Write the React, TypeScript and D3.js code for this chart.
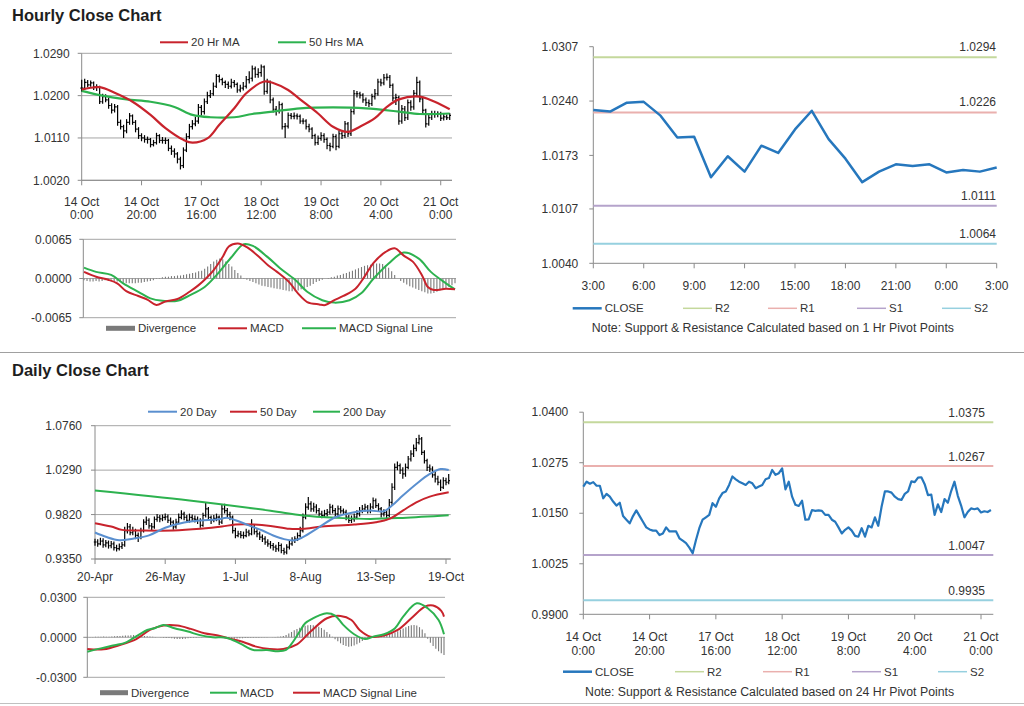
import React from 'react';
import * as d3 from 'd3';

// ---------- DATA (prices in 1e-4 units, i.e. 10216 = 1.0216) ----------
const hourlyDayLabels = ['14 Oct', '14 Oct', '17 Oct', '18 Oct', '19 Oct', '20 Oct', '21 Oct'];
const hourlyTimeLabels = ['0:00', '20:00', '16:00', '12:00', '8:00', '4:00', '0:00'];
const hourlyTickIdx = [0, 20, 40, 60, 80, 100, 120];
const hourlyPriceTicks = [10020, 10110, 10200, 10290];

const hourlyClose = [
  10216, 10228, 10223, 10227, 10218, 10218, 10187, 10198, 10191, 10179,
  10169, 10176, 10143, 10134, 10125, 10143, 10157, 10143, 10129, 10115,
  10110, 10107, 10107, 10096, 10100, 10115, 10105, 10105, 10105, 10088,
  10082, 10076, 10065, 10051, 10084, 10113, 10134, 10140, 10146, 10175,
  10166, 10187, 10200, 10204, 10220, 10241, 10234, 10228, 10224, 10220,
  10228, 10224, 10212, 10216, 10220, 10234, 10237, 10257, 10245, 10249,
  10261, 10209, 10228, 10191, 10171, 10168, 10181, 10134, 10135, 10158,
  10156, 10157, 10156, 10146, 10146, 10134, 10129, 10115, 10100, 10109,
  10115, 10107, 10094, 10092, 10113, 10092, 10119, 10115, 10140, 10119,
  10166, 10204, 10204, 10201, 10191, 10185, 10183, 10198, 10204, 10229,
  10227, 10238, 10239, 10222, 10195, 10196, 10146, 10172, 10153, 10185,
  10176, 10205, 10228, 10193, 10169, 10140, 10153, 10162, 10160, 10162,
  10152, 10155, 10153, 10158,
];
const hourlyHigh = [
  10234, 10236, 10233, 10232, 10230, 10224, 10221, 10204, 10203, 10196,
  10184, 10182, 10180, 10149, 10138, 10150, 10163, 10160, 10148, 10133,
  10120, 10116, 10113, 10110, 10106, 10121, 10118, 10112, 10111, 10108,
  10094, 10088, 10080, 10070, 10090, 10120, 10140, 10148, 10155, 10182,
  10180, 10194, 10208, 10212, 10228, 10246, 10245, 10238, 10232, 10230,
  10236, 10233, 10228, 10223, 10229, 10242, 10252, 10264, 10262, 10258,
  10266, 10264, 10236, 10232, 10196, 10178, 10188, 10185, 10142, 10164,
  10163, 10164, 10162, 10160, 10152, 10150, 10140, 10133, 10119, 10115,
  10122, 10120, 10111, 10100, 10119, 10118, 10126, 10124, 10146, 10144,
  10172, 10212, 10210, 10208, 10205, 10196, 10192, 10204, 10214, 10236,
  10236, 10246, 10247, 10244, 10226, 10204, 10200, 10180, 10178, 10192,
  10190, 10212, 10240, 10232, 10198, 10172, 10160, 10168, 10168, 10167,
  10166, 10161, 10160, 10163,
];
const hourlyLow = [
  10208, 10212, 10218, 10219, 10212, 10210, 10182, 10183, 10186, 10172,
  10162, 10164, 10136, 10128, 10110, 10120, 10138, 10138, 10122, 10108,
  10103, 10100, 10098, 10090, 10092, 10096, 10099, 10098, 10097, 10082,
  10074, 10068, 10056, 10043, 10046, 10080, 10108, 10128, 10135, 10140,
  10158, 10160, 10182, 10195, 10200, 10216, 10228, 10222, 10216, 10214,
  10215, 10218, 10206, 10207, 10211, 10215, 10226, 10230, 10238, 10238,
  10240, 10202, 10204, 10184, 10164, 10158, 10162, 10128, 10110, 10130,
  10150, 10150, 10149, 10140, 10139, 10128, 10122, 10108, 10094, 10095,
  10104, 10100, 10086, 10082, 10088, 10084, 10088, 10108, 10110, 10112,
  10114, 10160, 10196, 10194, 10185, 10178, 10176, 10178, 10192, 10200,
  10220, 10222, 10232, 10216, 10188, 10180, 10138, 10140, 10146, 10148,
  10168, 10170, 10198, 10186, 10160, 10132, 10136, 10148, 10153, 10154,
  10146, 10147, 10148, 10148,
];
const hourlyMA20: [number, number][] = [
  [0, 10213], [6, 10218], [11, 10206], [17, 10187], [23, 10159], [28, 10131], [34, 10106],
  [37, 10100], [42, 10109], [46, 10138], [51, 10173], [55, 10205], [61, 10230], [64, 10227],
  [69, 10212], [73, 10192], [79, 10162], [84, 10134], [89, 10123], [93, 10134], [98, 10152],
  [102, 10176], [106, 10192], [113, 10198], [118, 10187], [123, 10171],
];
const hourlyMA50: [number, number][] = [
  [0, 10210], [6, 10201], [15, 10192], [23, 10187], [31, 10176], [37, 10159], [43, 10154],
  [51, 10154], [57, 10161], [65, 10167], [73, 10173], [84, 10175], [95, 10173], [106, 10166],
  [113, 10161], [123, 10162],
];

// hourly MACD (1e-4 units)
const hourlyMacdTicks = [-65, 0, 65];
const hourlyMacd: [number, number][] = [
  [0, 11], [4, 3], [8, -2], [11, -8], [14, -21], [18, -29], [21, -35], [24, -44], [27, -38],
  [31, -34], [35, -22], [38, -11], [41, 3], [43, 14], [46, 36], [48, 53], [51, 58], [54, 52],
  [58, 36], [61, 22], [64, 11], [68, -6], [71, -25], [74, -39], [78, -43], [80, -44], [83, -36],
  [86, -29], [90, -17], [93, 3], [96, 26], [100, 44], [103, 50], [106, 38], [109, 28], [112, 6],
  [114, -14], [116, -19], [120, -17], [123, -18],
];
const hourlySignal: [number, number][] = [
  [0, 18], [4, 11], [9, 6], [13, -8], [18, -22], [22, -33], [26, -37], [31, -37], [35, -28],
  [40, -14], [44, 6], [49, 36], [53, 57], [56, 54], [61, 35], [65, 17], [70, -2], [74, -22],
  [79, -36], [83, -40], [88, -36], [92, -24], [96, 0], [101, 25], [106, 43], [111, 33],
  [115, 11], [120, -8], [123, -18],
];
const hourlyDivergence = [
  -3, -4, -5, -5, -4, -5, -4, -3, -3, -2,
  -4, -5, -6, -7, -8, -8, -8, -8, -7, -7, -6, -5, -4, -3, -1,
  1, 2, 3, 3, 4, 4, 5, 5, 6, 7, 8, 9, 10, 12, 13,
  16, 20, 24, 28, 31, 33, 32, 28,
  24, 20, 14, 9, 5, 1, -2, -4,
  -6, -8, -10, -12, -13, -14, -15, -16, -17, -18, -19, -20, -21, -21, -21, -20, -18, -16, -14, -12, -9, -6, -4,
  -2, 0, 1, 2, 3, 5, 6, 8, 9, 11, 13,
  15, 17, 19, 21, 22, 23, 24, 25, 25, 24, 22, 18, 12,
  6, 0, -4, -7, -10, -13, -15, -17, -19, -21, -23, -25, -25, -24, -22, -20, -18, -16, -14, -11, -8,
];

// hourly pivot chart (last 25 hours, 3:00 -> 3:00)
const pivotHourStart = 99;
const pivotHourLabels = ['3:00', '6:00', '9:00', '12:00', '15:00', '18:00', '21:00', '0:00', '3:00'];
const pivotHourTicks = [10040, 10107, 10173, 10240, 10307];
const hourlyR2 = 10294;
const hourlyR1 = 10226;
const hourlyS1 = 10111;
const hourlyS2 = 10064;

// daily
const dailyLabels = ['20-Apr', '26-May', '1-Jul', '8-Aug', '13-Sep', '19-Oct'];
const dailyTickIdx = [0, 26, 52, 78, 104, 130];
const dailyPriceTicks = [9350, 9820, 10290, 10760];
const dailyClose = [
  9530, 9510, 9540, 9500, 9520, 9490, 9510, 9470, 9460, 9480,
  9500, 9650, 9690, 9630, 9650, 9600, 9580, 9650, 9740, 9760,
  9700, 9690, 9770, 9790, 9775, 9790, 9795, 9760, 9740, 9690,
  9740, 9790, 9825, 9790, 9760, 9790, 9775, 9770, 9757, 9705,
  9810, 9880, 9790, 9757, 9780, 9792, 9740, 9880, 9862, 9820,
  9792, 9651, 9598, 9616, 9600, 9598, 9634, 9616, 9686, 9640,
  9616, 9581, 9563, 9528, 9510, 9493, 9475, 9458, 9493, 9440,
  9422, 9475, 9510, 9546, 9560, 9598, 9651, 9792, 9898, 9933,
  9880, 9900, 9862, 9827, 9810, 9830, 9845, 9898, 9862, 9827,
  9880, 9860, 9845, 9792, 9757, 9774, 9792, 9830, 9862, 9880,
  9898, 9862, 9900, 9968, 9915, 9880, 9827, 9840, 9810, 9950,
  10109, 10320, 10338, 10290, 10250, 10320, 10408, 10461, 10520, 10580,
  10620, 10478, 10390, 10320, 10302, 10240, 10197, 10162, 10109, 10179,
  10162, 10179,
];
const dailyHigh = [
  9565, 9560, 9575, 9570, 9550, 9545, 9540, 9535, 9500, 9515,
  9530, 9690, 9730, 9720, 9690, 9670, 9630, 9680, 9770, 9800,
  9780, 9730, 9800, 9825, 9815, 9820, 9830, 9820, 9790, 9760,
  9775, 9830, 9865, 9850, 9815, 9830, 9820, 9810, 9800, 9780,
  9840, 9950, 9900, 9810, 9815, 9830, 9810, 9930, 9935, 9890,
  9850, 9810, 9680, 9650, 9645, 9640, 9670, 9660, 9770, 9720,
  9665, 9640, 9610, 9590, 9560, 9540, 9520, 9500, 9530, 9515,
  9470, 9505, 9545, 9580, 9590, 9630, 9690, 9830, 9940, 10005,
  9960, 9945, 9930, 9890, 9860, 9870, 9880, 9935, 9925, 9890,
  9915, 9910, 9885, 9870, 9815, 9810, 9830, 9865, 9900, 9920,
  9935, 9920, 9940, 10000, 9990, 9940, 9900, 9875, 9870, 9985,
  10150, 10360, 10380, 10360, 10320, 10360, 10440, 10500, 10560, 10630,
  10665, 10640, 10500, 10410, 10350, 10330, 10270, 10230, 10190, 10215,
  10210, 10250,
];
const dailyLow = [
  9490, 9480, 9495, 9470, 9475, 9460, 9465, 9440, 9430, 9440,
  9455, 9480, 9620, 9600, 9600, 9560, 9530, 9560, 9630, 9710,
  9670, 9650, 9670, 9745, 9740, 9750, 9760, 9730, 9700, 9660,
  9670, 9720, 9770, 9760, 9730, 9735, 9745, 9735, 9720, 9680,
  9690, 9790, 9760, 9720, 9740, 9750, 9710, 9720, 9830, 9790,
  9760, 9620, 9570, 9580, 9570, 9565, 9580, 9590, 9600, 9610,
  9580, 9550, 9530, 9500, 9480, 9460, 9440, 9425, 9430, 9410,
  9395, 9400, 9450, 9490, 9520, 9540, 9580, 9630, 9770, 9870,
  9850, 9850, 9830, 9800, 9780, 9785, 9800, 9820, 9830, 9795,
  9800, 9830, 9815, 9760, 9730, 9730, 9745, 9770, 9800, 9835,
  9850, 9830, 9835, 9880, 9890, 9850, 9790, 9800, 9760, 9795,
  9920, 10080, 10290, 10250, 10200, 10220, 10300, 10380, 10430, 10490,
  10560, 10450, 10360, 10280, 10270, 10210, 10160, 10130, 10070, 10090,
  10130, 10140,
];
const dailyMA20: [number, number][] = [
  [0, 9630], [4, 9585], [9, 9548], [14, 9565], [20, 9600], [26, 9680], [33, 9735], [39, 9757],
  [45, 9767], [49, 9785], [52, 9760], [57, 9706], [62, 9651], [66, 9598], [70, 9560], [74, 9548],
  [77, 9581], [83, 9686], [89, 9792], [96, 9845], [102, 9862], [107, 9855], [110, 9915],
  [114, 10021], [119, 10144], [124, 10250], [128, 10302], [131, 10292],
];
const dailyMA50: [number, number][] = [
  [0, 9729], [6, 9693], [10, 9658], [18, 9651], [29, 9651], [39, 9669], [47, 9693], [52, 9715],
  [59, 9715], [65, 9700], [72, 9669], [77, 9669], [84, 9693], [96, 9715], [104, 9739],
  [109, 9774], [114, 9862], [119, 9950], [124, 10010], [131, 10056],
];
const dailyMA200: [number, number][] = [
  [0, 10074], [35, 9968], [65, 9860], [77, 9810], [90, 9785], [102, 9774], [114, 9785], [131, 9812],
];

// daily MACD (1e-4 units)
const dailyMacdTicks = [-300, 0, 300];
const dailyMacd: [number, number][] = [
  [0, -108], [5, -83], [10, -60], [14, -40], [17, -5], [19, 20], [22, 55], [25, 70], [28, 92],
  [32, 68], [37, 43], [41, 18], [46, 0], [51, -3], [56, -45], [61, -95], [66, -95], [70, -105],
  [73, -95], [75, -50], [78, 43], [80, 105], [83, 143], [85, 163], [88, 180], [91, 163], [94, 93],
  [98, 23], [102, -13], [105, 5], [109, 23], [113, 68], [116, 155], [121, 255], [125, 218],
  [129, 130], [131, 23],
];
const dailySignal: [number, number][] = [
  [0, -88], [6, -90], [12, -58], [18, -13], [23, 55], [28, 88], [33, 88], [38, 63], [43, 30],
  [48, 13], [52, -8], [57, -33], [62, -70], [67, -88], [72, -88], [77, -53], [82, 43], [88, 143],
  [93, 160], [97, 130], [100, 55], [104, 5], [109, 13], [114, 55], [119, 143], [124, 230],
  [127, 238], [130, 198], [131, 155],
];
const dailyDivergence = [
  2, 3, 2, 4, 5, 4, 6, 5, 4, 6,
  8, 10, 9, 12, 14, 13, 15, 17, 16, 14,
  12, 10, 8, 6, 4, 2, 0, -2, -4, -5,
  -6, -8, -10, -12, -13, -12, -10, -8, -6, -4,
  -3, -2, -1, 0, 1, 1, 0, -2, -4, -5,
  -6, -7, -8, -9, -10, -9, -8, -7, -6, -5,
  -4, -4, -3, -3, -2, -2, -1, 0, 1, 2,
  4, 6, 10, 18, 28, 40, 52, 62, 72, 80,
  86, 90, 92, 90, 86, 80, 70, 56, 40, 22,
  4, -14, -30, -45, -58, -66, -70, -68, -62, -52,
  -40, -28, -16, -6, 2, 6, 8, 10, 12, 14,
  18, 22, 28, 36, 46, 56, 66, 76, 84, 90,
  92, 88, 76, 58, 30, -10, -40, -65, -85, -105,
  -120, -133,
];

// 24 hr pivot chart
const pivotDayTicks = [9900, 10025, 10150, 10275, 10400];
const dailyR2 = 10375;
const dailyR1 = 10267;
const dailyS1 = 10047;
const dailyS2 = 9935;

// ---------- STYLE ----------
const FONT = '"Liberation Sans", Arial, Helvetica, sans-serif';
const TXT = '#333333';
const GRID = '#a6a6a6';
const AXIS = '#8a8a8a';
const RED = '#c8232c';
const GREEN = '#2db24f';
const BLUE_MA = '#5a8fcf';
const CLOSE_C = '#2677bd';
const R2C = '#c4d89c';
const R1C = '#eab0ae';
const S1C = '#b5a3cb';
const S2C = '#96d0df';
const HIST = '#7a7a7a';

const fmt4 = (v: number) => (v / 10000).toFixed(4);
type Pt = [number, number];

function curve(x: any, y: any, pts: Pt[]) {
  return (
    d3
      .line<Pt>()
      .x((d) => x(d[0]))
      .y((d) => y(d[1]))
      .curve(d3.curveCatmullRom.alpha(0.5))(pts) || ''
  );
}

function OHLC({ x, y, hi, lo, cl, tick }: any) {
  return (
    <g stroke="#000" strokeWidth={1.2}>
      {cl.map((c: number, i: number) => {
        const o = i > 0 ? cl[i - 1] : c;
        const xi = x(i);
        return (
          <g key={i}>
            <line x1={xi} x2={xi} y1={y(hi[i])} y2={y(lo[i])} />
            <line x1={xi - tick} x2={xi} y1={y(o)} y2={y(o)} />
            <line x1={xi} x2={xi + tick} y1={y(c)} y2={y(c)} />
          </g>
        );
      })}
    </g>
  );
}

function YAxis({ x0, x1, y, ticks, gap, grid }: any) {
  return (
    <g>
      {grid &&
        ticks.map((t: number) => (
          <line key={'g' + t} x1={x0} x2={x1} y1={y(t)} y2={y(t)} stroke={GRID} strokeWidth={1} />
        ))}
      <line x1={x0} x2={x0} y1={y(ticks[0])} y2={y(ticks[ticks.length - 1])} stroke={AXIS} />
      {ticks.map((t: number) => (
        <line key={'t' + t} x1={x0 - 4} x2={x0} y1={y(t)} y2={y(t)} stroke={AXIS} />
      ))}
      {ticks.map((t: number) => (
        <text key={'l' + t} x={x0 - gap} y={y(t)} dy="0.35em" textAnchor="end" fontSize={12} fill={TXT}>
          {fmt4(t)}
        </text>
      ))}
    </g>
  );
}

function XTicks({ x, idx, yAxis, x0, x1 }: any) {
  return (
    <g>
      <line x1={x0} x2={x1} y1={yAxis} y2={yAxis} stroke={AXIS} />
      {idx.map((i: number) => (
        <line key={i} x1={x(i)} x2={x(i)} y1={yAxis} y2={yAxis + 5} stroke={AXIS} />
      ))}
    </g>
  );
}

function Leg({ x1, x2, y, color, label, w = 2 }: any) {
  return (
    <g>
      <line x1={x1} x2={x2} y1={y} y2={y} stroke={color} strokeWidth={w} />
      <text x={x2 + 3} y={y} dy="0.35em" fontSize={11.5} fill={TXT}>
        {label}
      </text>
    </g>
  );
}

function HistLeg({ x1, x2, y, label }: any) {
  return (
    <g>
      <rect x={x1} y={y - 2.5} width={x2 - x1} height={5} fill={HIST} />
      <text x={x2 + 3} y={y} dy="0.35em" fontSize={11.5} fill={TXT}>
        {label}
      </text>
    </g>
  );
}

// ---------- PANELS ----------
function HourlyPrice() {
  const x = d3.scaleLinear().domain([0, 124]).range([81.7, 452.7]);
  const y = d3.scaleLinear().domain([10020, 10290]).range([180.3, 53.3]);
  const X0 = 81.7, X1 = 452;
  return (
    <g>
      <Leg x1={160} x2={188} y={42.3} color={RED} label="20 Hr MA" />
      <Leg x1={278} x2={306} y={42.3} color={GREEN} label="50 Hrs MA" />
      <YAxis x0={X0} x1={X1} y={y} ticks={hourlyPriceTicks} gap={12} grid />
      <XTicks x={x} idx={hourlyTickIdx} yAxis={y(10020)} x0={X0} x1={X1} />
      {hourlyTickIdx.map((i, k) => (
        <text key={i} x={x(i)} y={205.5} textAnchor="middle" fontSize={12} fill={TXT}>
          <tspan x={x(i)}>{hourlyDayLabels[k]}</tspan>
          <tspan x={x(i)} dy={13}>{hourlyTimeLabels[k]}</tspan>
        </text>
      ))}
      <OHLC x={x} y={y} hi={hourlyHigh} lo={hourlyLow} cl={hourlyClose} tick={1.3} />
      <path d={curve(x, y, hourlyMA50)} fill="none" stroke={GREEN} strokeWidth={2.2} />
      <path d={curve(x, y, hourlyMA20)} fill="none" stroke={RED} strokeWidth={2.2} />
    </g>
  );
}

function HourlyMacdPanel() {
  const x = d3.scaleLinear().domain([0, 123]).range([84, 455]);
  const y = d3.scaleLinear().domain([-65, 65]).range([317.7, 239.3]);
  const X0 = 83.3, X1 = 456;
  return (
    <g>
      <YAxis x0={X0} x1={X1} y={y} ticks={hourlyMacdTicks} gap={11.5} grid />
      <g stroke={HIST} strokeWidth={1.1}>
        {hourlyDivergence.map((v, i) => (
          <line key={i} x1={x(i)} x2={x(i)} y1={y(0)} y2={y(v)} />
        ))}
      </g>
      <path d={curve(x, y, hourlySignal)} fill="none" stroke={GREEN} strokeWidth={2} />
      <path d={curve(x, y, hourlyMacd)} fill="none" stroke={RED} strokeWidth={2} />
      <HistLeg x1={106} x2={135} y={328.3} label="Divergence" />
      <Leg x1={218} x2={247} y={328.3} color={RED} label="MACD" />
      <Leg x1={302} x2={336} y={328.3} color={GREEN} label="MACD Signal Line" />
    </g>
  );
}

function PivotLines({ x0, x1, y, levels, labelX, off }: any) {
  return (
    <g>
      {levels.map((l: any) => (
        <g key={l.name}>
          <line x1={x0} x2={x1} y1={y(l.v)} y2={y(l.v)} stroke={l.c} strokeWidth={2} />
          <text x={labelX} y={y(l.v) - off} textAnchor="end" fontSize={12} fill={TXT}>
            {fmt4(l.v)}
          </text>
        </g>
      ))}
    </g>
  );
}

function PivotLegend({ y, xs, note, noteX, noteY }: any) {
  const items = [
    { label: 'CLOSE', c: CLOSE_C, w: 2.5 },
    { label: 'R2', c: R2C, w: 1.5 },
    { label: 'R1', c: R1C, w: 1.5 },
    { label: 'S1', c: S1C, w: 1.5 },
    { label: 'S2', c: S2C, w: 1.5 },
  ];
  return (
    <g>
      {items.map((it, k) => (
        <Leg key={it.label} x1={xs[k]} x2={xs[k] + 29} y={y} color={it.c} label={it.label} w={it.w} />
      ))}
      <text x={noteX} y={noteY} fontSize={12.3} fill={TXT}>
        {note}
      </text>
    </g>
  );
}

function HourlyPivot() {
  const closes = hourlyClose.slice(pivotHourStart);
  const x = d3.scaleLinear().domain([0, 24]).range([593.3, 996.7]);
  const y = d3.scaleLinear().domain([10040, 10307]).range([263.3, 46.7]);
  const X0 = 593.3, X1 = 996.7;
  const tickIdx = pivotHourLabels.map((_, k) => k * 3);
  const levels = [
    { name: 'R2', v: hourlyR2, c: R2C },
    { name: 'R1', v: hourlyR1, c: R1C },
    { name: 'S1', v: hourlyS1, c: S1C },
    { name: 'S2', v: hourlyS2, c: S2C },
  ];
  const pts: Pt[] = closes.map((c, i) => [i, c]);
  return (
    <g>
      <YAxis x0={X0} x1={X1} y={y} ticks={pivotHourTicks} gap={15} />
      <XTicks x={x} idx={tickIdx} yAxis={y(10040)} x0={X0} x1={X1} />
      {tickIdx.map((i, k) => (
        <text key={k} x={x(i)} y={289.5} textAnchor="middle" fontSize={12} fill={TXT}>
          {pivotHourLabels[k]}
        </text>
      ))}
      <PivotLines x0={X0} x1={X1} y={y} levels={levels} labelX={996} off={6} />
      <path
        d={d3.line<Pt>().x((d) => x(d[0])).y((d) => y(d[1]))(pts) || ''}
        fill="none"
        stroke={CLOSE_C}
        strokeWidth={2.5}
        strokeLinejoin="round"
      />
      <PivotLegend
        y={308.3}
        xs={[572.7, 683, 768, 857, 942]}
        note="Note: Support & Resistance Calculated based on 1 Hr Pivot Points"
        noteX={591.7}
        noteY={331.5}
      />
    </g>
  );
}

function DailyPrice() {
  const x = d3.scaleLinear().domain([0, 130]).range([95, 446]);
  const y = d3.scaleLinear().domain([9350, 10760]).range([559, 425.7]);
  const X0 = 95, X1 = 450.7;
  return (
    <g>
      <Leg x1={148} x2={177} y={411.7} color={BLUE_MA} label="20 Day" />
      <Leg x1={230} x2={257} y={411.7} color={RED} label="50 Day" />
      <Leg x1={313} x2={340} y={411.7} color={GREEN} label="200 Day" />
      <YAxis x0={X0} x1={X1} y={y} ticks={dailyPriceTicks} gap={13} grid />
      <XTicks x={x} idx={dailyTickIdx} yAxis={y(9350)} x0={X0} x1={X1} />
      {dailyTickIdx.map((i, k) => (
        <text key={i} x={x(i)} y={581} textAnchor="middle" fontSize={12} fill={TXT}>
          {dailyLabels[k]}
        </text>
      ))}
      <OHLC x={x} y={y} hi={dailyHigh} lo={dailyLow} cl={dailyClose} tick={1.2} />
      <path d={curve(x, y, dailyMA200)} fill="none" stroke={GREEN} strokeWidth={2} />
      <path d={curve(x, y, dailyMA50)} fill="none" stroke={RED} strokeWidth={2} />
      <path d={curve(x, y, dailyMA20)} fill="none" stroke={BLUE_MA} strokeWidth={2} />
    </g>
  );
}

function DailyMacdPanel() {
  const x = d3.scaleLinear().domain([0, 131]).range([87.3, 444]);
  const y = d3.scaleLinear().domain([-300, 300]).range([677.3, 597.3]);
  const X0 = 87.3, X1 = 445;
  return (
    <g>
      <YAxis x0={X0} x1={X1} y={y} ticks={dailyMacdTicks} gap={10.5} grid />
      <g stroke={HIST} strokeWidth={1.1}>
        {dailyDivergence.map((v, i) => (
          <line key={i} x1={x(i)} x2={x(i)} y1={y(0)} y2={y(v)} />
        ))}
      </g>
      <path d={curve(x, y, dailySignal)} fill="none" stroke={RED} strokeWidth={2} />
      <path d={curve(x, y, dailyMacd)} fill="none" stroke={GREEN} strokeWidth={2} />
      <HistLeg x1={100} x2={128} y={692.7} label="Divergence" />
      <Leg x1={210} x2={237} y={692.7} color={GREEN} label="MACD" />
      <Leg x1={293} x2={320} y={692.7} color={RED} label="MACD Signal Line" />
    </g>
  );
}

function DailyPivot() {
  const x = d3.scaleLinear().domain([0, 120]).range([583.3, 981]);
  const y = d3.scaleLinear().domain([9900, 10400]).range([614.3, 412.2]);
  const X0 = 583.3, X1 = 993.3;
  const levels = [
    { name: 'R2', v: dailyR2, c: R2C },
    { name: 'R1', v: dailyR1, c: R1C },
    { name: 'S1', v: dailyS1, c: S1C },
    { name: 'S2', v: dailyS2, c: S2C },
  ];
  const pts: Pt[] = hourlyClose.map((c, i) => [i, c]);
  return (
    <g>
      <YAxis x0={X0} x1={X1} y={y} ticks={pivotDayTicks} gap={15} />
      <XTicks x={x} idx={hourlyTickIdx} yAxis={y(9900)} x0={X0} x1={X1} />
      {hourlyTickIdx.map((i, k) => (
        <text key={i} x={x(i)} y={640.5} textAnchor="middle" fontSize={12} fill={TXT}>
          <tspan x={x(i)}>{hourlyDayLabels[k]}</tspan>
          <tspan x={x(i)} dy={14.5}>{hourlyTimeLabels[k]}</tspan>
        </text>
      ))}
      <PivotLines x0={X0} x1={X1} y={y} levels={levels} labelX={985} off={5} />
      <path
        d={d3.line<Pt>().x((d) => x(d[0])).y((d) => y(d[1]))(pts) || ''}
        fill="none"
        stroke={CLOSE_C}
        strokeWidth={2.2}
        strokeLinejoin="round"
      />
      <PivotLegend
        y={671.7}
        xs={[563, 675, 763, 852, 938]}
        note="Note: Support & Resistance Calculated based on 24 Hr Pivot Points"
        noteX={585}
        noteY={695.5}
      />
    </g>
  );
}

export default function App() {
  return (
    <svg
      width={1024}
      height={706}
      style={{ position: 'absolute', left: 0, top: 0, display: 'block' }}
      fontFamily={FONT}
    >
      <rect x={0} y={0} width={1024} height={706} fill="#fff" />
      <text x={12} y={21} fontSize={16.5} fontWeight="bold" fill="#1e1e1e">
        Hourly Close Chart
      </text>
      <HourlyPrice />
      <HourlyMacdPanel />
      <HourlyPivot />
      <line x1={0} x2={1024} y1={352.5} y2={352.5} stroke="#a0a0a0" />
      <text x={12} y={376} fontSize={16.5} fontWeight="bold" fill="#1e1e1e">
        Daily Close Chart
      </text>
      <DailyPrice />
      <DailyMacdPanel />
      <DailyPivot />
      <line x1={0} x2={1024} y1={703.5} y2={703.5} stroke="#c0c0c0" />
    </svg>
  );
}
